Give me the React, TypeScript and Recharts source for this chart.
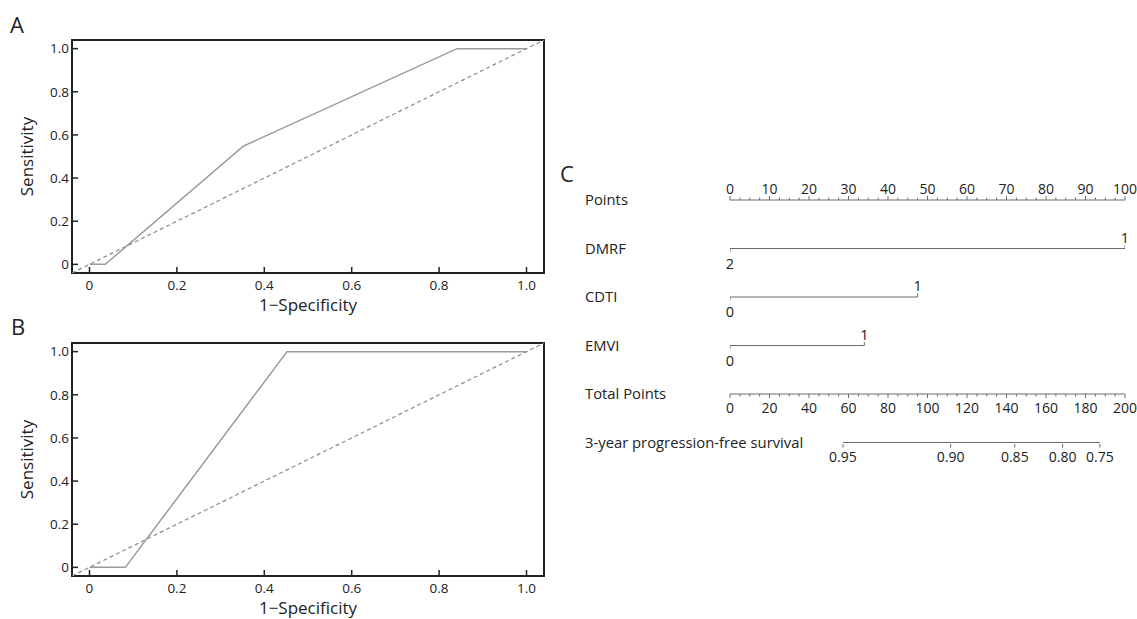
import React from 'react';
import { LineChart, ComposedChart, Line, XAxis, YAxis, ReferenceArea, ReferenceLine, LabelList } from 'recharts';

// ---------- ROC panels ----------
const rocTicks = [0, 0.2, 0.4, 0.6, 0.8, 1.0];
const rocDomain: [number, number] = [-0.04, 1.04];
const rocA = [
  { x: 0, y: 0 },
  { x: 0.036, y: 0 },
  { x: 0.352, y: 0.548 },
  { x: 0.841, y: 1.0 },
  { x: 1.0, y: 1.0 },
];
const rocB = [
  { x: 0, y: 0 },
  { x: 0.082, y: 0 },
  { x: 0.452, y: 1.0 },
  { x: 1.0, y: 1.0 },
];
const chanceLine = [
  { x: -0.04, y: -0.04 },
  { x: 1.04, y: 1.04 },
];

// ---------- Nomogram ----------
const rowLabels = ['Points', 'DMRF', 'CDTI', 'EMVI', 'Total Points', '3-year progression-free survival'];
const rowIndex = [0, 1, 2, 3, 4, 5];
const pointsTicks = [
  0, 2.5, 5, 7.5, 10, 12.5, 15, 17.5, 20, 22.5, 25, 27.5, 30, 32.5, 35, 37.5, 40, 42.5, 45, 47.5, 50,
  52.5, 55, 57.5, 60, 62.5, 65, 67.5, 70, 72.5, 75, 77.5, 80, 82.5, 85, 87.5, 90, 92.5, 95, 97.5, 100,
];
const pointsMajor = [0, 10, 20, 30, 40, 50, 60, 70, 80, 90, 100];
const totalTicks = [
  0, 5, 10, 15, 20, 25, 30, 35, 40, 45, 50, 55, 60, 65, 70, 75, 80, 85, 90, 95, 100,
  105, 110, 115, 120, 125, 130, 135, 140, 145, 150, 155, 160, 165, 170, 175, 180, 185, 190, 195, 200,
];
const totalMajor = [0, 20, 40, 60, 80, 100, 120, 140, 160, 180, 200];
const dmrf = [
  { x: 0, y: 1, label: '2' },
  { x: 100, y: 1, label: '1' },
];
const cdti = [
  { x: 0, y: 2, label: '0' },
  { x: 47.5, y: 2, label: '1' },
];
const emvi = [
  { x: 0, y: 3, label: '0' },
  { x: 34, y: 3, label: '1' },
];
const survivalPoints = [57.2, 111.7, 144.2, 168.4, 187.3];
const survivalLabels = ['0.95', '0.90', '0.85', '0.80', '0.75'];
const survivalData = survivalPoints.map((p, i) => ({ total: p, prob: survivalLabels[i] }));

const TEXT = '#222';
const NOMO = '#6a6a6a';

const fmtRoc = (v: number) => (v === 0 ? '0' : v.toFixed(1));

const xTitle = (props: any) => {
  const vb = props.viewBox || {};
  return (
    <text x={vb.x + vb.width / 2} y={vb.y + 38} textAnchor="middle" fontSize={17} fill={TEXT}>
      1−Specificity
    </text>
  );
};
const yTitle = (props: any) => {
  const vb = props.viewBox || {};
  const cx = vb.x + 33;
  const cy = vb.y + vb.height / 2;
  return (
    <text x={cx} y={cy} transform={`rotate(-90 ${cx} ${cy})`} textAnchor="middle" fontSize={17} fill={TEXT}>
      Sensitivity
    </text>
  );
};

function RocPanel({ data, top, height, marginTop, marginBottom }: any) {
  return (
    <div style={{ position: 'absolute', left: 0, top, width: 560, height }}>
      <LineChart width={560} height={height} margin={{ top: marginTop, right: 16, bottom: marginBottom, left: 0 }}>
        <XAxis
          type="number"
          dataKey="x"
          domain={rocDomain}
          ticks={rocTicks}
          interval={0}
          allowDataOverflow
          tickFormatter={fmtRoc}
          tickSize={-6}
          tickMargin={13}
          height={40}
          axisLine={false}
          tickLine={{ stroke: TEXT, strokeWidth: 1.5 }}
          tick={{ fill: TEXT, fontSize: 13.5 }}
          label={{ content: xTitle }}
        />
        <YAxis
          type="number"
          dataKey="y"
          domain={rocDomain}
          ticks={rocTicks}
          interval={0}
          allowDataOverflow
          tickFormatter={fmtRoc}
          tickSize={-6}
          tickMargin={9}
          width={72}
          axisLine={false}
          tickLine={{ stroke: TEXT, strokeWidth: 1.5 }}
          tick={{ fill: TEXT, fontSize: 13.5 }}
          label={{ content: yTitle }}
        />
        <ReferenceArea x1={-0.04} x2={1.04} y1={-0.04} y2={1.04} fill="none" stroke={TEXT} strokeWidth={2} />
        <Line
          data={chanceLine}
          dataKey="y"
          stroke="#8a8a8a"
          strokeWidth={1.2}
          strokeDasharray="4 3"
          dot={false}
          activeDot={false}
          isAnimationActive={false}
        />
        <Line
          data={data}
          dataKey="y"
          stroke="#9a9a9a"
          strokeWidth={1.5}
          dot={false}
          activeDot={false}
          isAnimationActive={false}
        />
      </LineChart>
    </div>
  );
}

const PointsTick = (props: any) => {
  const { x, y, payload } = props;
  const v = payload.value;
  const axisY = y + 6;
  const major = pointsMajor.includes(v);
  return (
    <g>
      <line x1={x} x2={x} y1={axisY} y2={axisY - (major ? 4 : 2.5)} stroke={NOMO} />
      {major && (
        <text x={x} y={axisY - 6} textAnchor="middle" fontSize={14} fill={TEXT}>
          {v}
        </text>
      )}
    </g>
  );
};

const TotalTick = (props: any) => {
  const { x, y, payload } = props;
  const v = payload.value;
  const axisY = y - 6;
  const major = totalMajor.includes(v);
  return (
    <g>
      <line x1={x} x2={x} y1={axisY} y2={axisY + (major ? 4 : 2.5)} stroke={NOMO} />
      {major && (
        <text x={x} y={axisY + 19} textAnchor="middle" fontSize={14} fill={TEXT}>
          {v}
        </text>
      )}
    </g>
  );
};

const SurvTick = (props: any) => {
  const { x, y, payload } = props;
  const i = survivalPoints.indexOf(payload.value);
  const axisY = y - 6;
  return (
    <g>
      <line x1={x} x2={x} y1={axisY} y2={axisY + 3.5} stroke={NOMO} />
      <text x={x} y={axisY + 17.5} textAnchor="middle" fontSize={14} fill={TEXT}>
        {survivalLabels[i]}
      </text>
    </g>
  );
};

const RowTick = (props: any) => {
  const { x, y, payload } = props;
  return (
    <text x={x} y={y + 5} textAnchor="start" fontSize={14.8} fill={TEXT}>
      {rowLabels[payload.value]}
    </text>
  );
};

const RowEnd = (props: any) => {
  const { cx, cy, index } = props;
  return (
    <line
      key={`end-${index}`}
      x1={cx}
      x2={cx}
      y1={cy}
      y2={index === 0 ? cy + 3.5 : cy - 3.5}
      stroke={NOMO}
    />
  );
};

const RowLabel = (props: any) => {
  const { x, y, value, index } = props;
  return (
    <text x={x} y={index === 0 ? y + 20 : y - 6} textAnchor="middle" fontSize={14.5} fill={TEXT}>
      {value}
    </text>
  );
};

function Nomogram() {
  const rows = [dmrf, cdti, emvi];
  return (
    <div style={{ position: 'absolute', left: 560, top: 150, width: 577, height: 330 }}>
      <ComposedChart
        width={577}
        height={330}
        data={survivalData}
        margin={{ top: 20, right: 12, bottom: 6, left: 0 }}
      >
        <XAxis
          xAxisId="points"
          orientation="top"
          type="number"
          dataKey="x"
          domain={[0, 100]}
          allowDataOverflow
          ticks={pointsTicks}
          interval={0}
          height={30}
          axisLine={{ stroke: NOMO }}
          tickLine={false}
          tickSize={4}
          tickMargin={2}
          tick={PointsTick}
        />
        <XAxis
          xAxisId="a_total"
          orientation="bottom"
          type="number"
          dataKey="total"
          domain={[0, 200]}
          allowDataOverflow
          ticks={totalTicks}
          interval={0}
          height={50}
          axisLine={{ stroke: NOMO }}
          tickLine={false}
          tickSize={4}
          tickMargin={2}
          tick={TotalTick}
        />
        <XAxis
          xAxisId="b_surv"
          orientation="bottom"
          type="number"
          dataKey="total"
          domain={[0, 200]}
          allowDataOverflow
          ticks={survivalPoints}
          interval={0}
          height={30}
          axisLine={false}
          tickLine={false}
          tickSize={4}
          tickMargin={2}
          tick={SurvTick}
        />
        <YAxis
          yAxisId="rows"
          type="number"
          domain={[0, 4]}
          reversed
          ticks={rowIndex}
          interval={0}
          width={170}
          axisLine={false}
          tickLine={false}
          tickSize={0}
          tickMargin={145}
          tick={RowTick}
        />
        <ReferenceLine
          xAxisId="b_surv"
          yAxisId="rows"
          segment={[
            { x: survivalPoints[0], y: 5 },
            { x: survivalPoints[survivalPoints.length - 1], y: 5 },
          ]}
          ifOverflow="visible"
          stroke={NOMO}
        />
        {rows.map((r, i) => (
          <Line
            key={i}
            xAxisId="points"
            yAxisId="rows"
            data={r}
            dataKey="y"
            stroke={NOMO}
            strokeWidth={1}
            dot={RowEnd}
            activeDot={false}
            isAnimationActive={false}
          >
            <LabelList dataKey="label" content={RowLabel} />
          </Line>
        ))}
      </ComposedChart>
    </div>
  );
}

export default function App() {
  return (
    <div
      style={{
        position: 'absolute',
        left: 0,
        top: 0,
        width: 1137,
        height: 619,
        background: '#fff',
        fontFamily: '"Open Sans", sans-serif',
        overflow: 'hidden',
      }}
    >
      <RocPanel data={rocA} top={0} height={320} marginTop={40} marginBottom={7} />
      <RocPanel data={rocB} top={310} height={309} marginTop={33} marginBottom={3} />
      <Nomogram />
      <svg width={1137} height={619} style={{ position: 'absolute', left: 0, top: 0, pointerEvents: 'none' }}>
        <text x={10} y={33} fontSize={22} fill={TEXT}>A</text>
        <text x={11} y={335} fontSize={22} fill={TEXT}>B</text>
        <text x={560} y={182} fontSize={22} fill={TEXT}>C</text>
      </svg>
    </div>
  );
}
